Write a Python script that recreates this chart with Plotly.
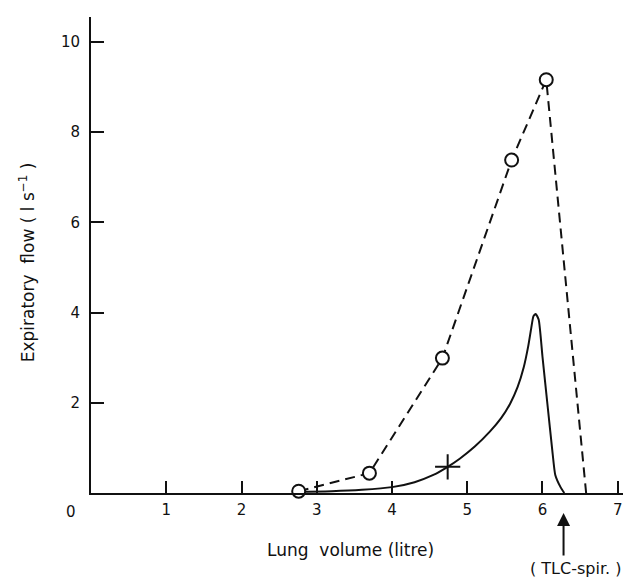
import plotly.graph_objects as go

# Dashed series (open circles)
dash_x = [2.76, 3.70, 4.67, 5.59, 6.05, 6.58]
dash_y = [0.04, 0.44, 2.99, 7.38, 9.16, 0.0]
dash_marker = [True, True, True, True, True, False]

# Solid flow-volume curve
solid_x = [2.80, 3.20, 3.60, 4.00, 4.30, 4.55, 4.74, 4.90, 5.10, 5.30, 5.45, 5.57, 5.67, 5.75, 5.81, 5.85, 5.88, 5.91, 5.95, 6.00, 6.07, 6.13, 6.17, 6.24, 6.29]
solid_y = [0.03, 0.04, 0.07, 0.13, 0.24, 0.40, 0.58, 0.76, 1.03, 1.36, 1.66, 1.98, 2.35, 2.78, 3.25, 3.65, 3.92, 3.97, 3.84, 3.02, 1.90, 0.95, 0.40, 0.13, 0.00]

# Plus marker
plus_x = [4.74]
plus_y = [0.58]

x_ticks = [1, 2, 3, 4, 5, 6, 7]
y_ticks = [2, 4, 6, 8, 10]
tlc_x = 6.28

FONT = "DejaVu Sans"
BLACK = "#111111"

fig = go.Figure()

fig.add_trace(go.Scatter(
    x=solid_x, y=solid_y, mode="lines",
    line=dict(color=BLACK, width=2, shape="spline", smoothing=0.5),
    showlegend=False, cliponaxis=False))

fig.add_trace(go.Scatter(
    x=dash_x, y=dash_y, mode="lines",
    line=dict(color=BLACK, width=2, dash="10px,6px"),
    showlegend=False, cliponaxis=False))

mx = [x for x, m in zip(dash_x, dash_marker) if m]
my = [y for y, m in zip(dash_y, dash_marker) if m]
fig.add_trace(go.Scatter(
    x=mx, y=my, mode="markers",
    marker=dict(symbol="circle", size=13, color="white",
                line=dict(color=BLACK, width=2)),
    showlegend=False, cliponaxis=False))

fig.add_trace(go.Scatter(
    x=plus_x, y=plus_y, mode="markers",
    marker=dict(symbol="cross-thin", size=18,
                line=dict(color=BLACK, width=2)),
    showlegend=False, cliponaxis=False))

fig.update_xaxes(
    range=[0, 7.07], showgrid=False, zeroline=False, automargin=False,
    showline=True, linecolor=BLACK, linewidth=2,
    ticks="inside", ticklen=12, tickwidth=2, tickcolor=BLACK,
    tickvals=x_ticks, ticktext=[str(v) for v in x_ticks],
    ticklabelstandoff=2,
    tickfont=dict(family=FONT, size=15, color=BLACK))

fig.update_yaxes(
    range=[0, 10.55], showgrid=False, zeroline=False, automargin=False,
    showline=True, linecolor=BLACK, linewidth=2,
    ticks="inside", ticklen=13, tickwidth=2, tickcolor=BLACK,
    tickvals=y_ticks, ticktext=[str(v) for v in y_ticks],
    ticklabelstandoff=6,
    tickfont=dict(family=FONT, size=15, color=BLACK))

annos = [
    dict(x=-0.0376, y=-0.040, xref="paper", yref="paper", text="0", showarrow=False,
         xanchor="center", yanchor="middle",
         font=dict(family=FONT, size=15, color=BLACK)),
    dict(x=0.487, y=-0.120, xref="paper", yref="paper", text="Lung  volume (litre)",
         xanchor="center", yanchor="middle",
         showarrow=False, font=dict(family=FONT, size=17, color=BLACK)),
    dict(x=-0.120, y=0.485, xref="paper", yref="paper",
         text="Expiratory  flow ( l s<sup>−1</sup> )",
         xanchor="center", yanchor="middle",
         textangle=-90, showarrow=False,
         font=dict(family=FONT, size=17, color=BLACK)),
    dict(x=1.0, y=-0.158, xref="paper", yref="paper", xanchor="right", yanchor="middle",
         text="( TLC-spir. )", showarrow=False,
         font=dict(family=FONT, size=16, color=BLACK)),
    dict(x=tlc_x, y=-0.042, xref="x", yref="paper", text="", showarrow=True,
         ax=0, ay=44, arrowhead=2, arrowsize=1.3, arrowwidth=2, arrowcolor=BLACK),
]
fig.update_layout(
    width=615, height=572,
    margin=dict(l=83, r=0, t=9, b=87),
    plot_bgcolor="white", paper_bgcolor="white",
    annotations=annos,
    font=dict(family=FONT, color=BLACK))

fig.write_html("out.html")
